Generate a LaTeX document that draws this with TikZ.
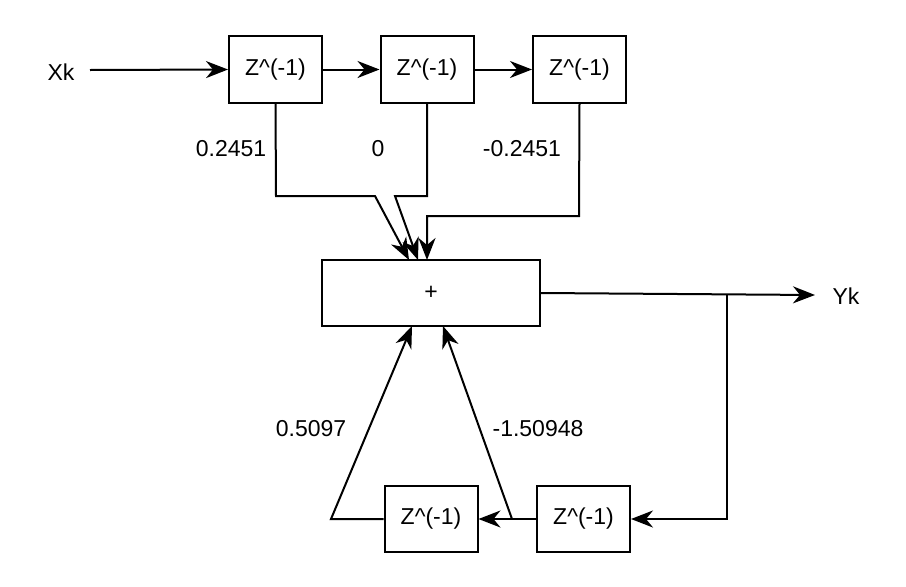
\documentclass[tikz,border=0pt]{standalone}
\usepackage{fontspec}
\setmainfont{Liberation Sans}
\usetikzlibrary{arrows.meta}
\begin{document}
\begin{tikzpicture}[x=1pt,y=-1pt,
  every node/.style={font=\fontsize{23}{27}\selectfont, inner sep=0pt},
  blk/.style={draw, line width=2pt, minimum width=93pt, minimum height=67pt},
  wire/.style={line width=2pt},
  arr/.style={wire, -{Stealth[length=22pt,width=17pt,inset=7pt]}},
  lbl/.style={}]
\useasboundingbox (0,0) rectangle (906,587);
\fill[white] (0,0) rectangle (906,587);
% nodes
\node[lbl] (xk) at (61,72) {Xk};
\node[blk] (b1) at (275.5,69.5) {Z\^{}(-1)};
\node[blk] (b2) at (427,69.5) {Z\^{}(-1)};
\node[blk] (b3) at (579.5,69.5) {Z\^{}(-1)};
\node[draw, line width=2pt, minimum width=218pt, minimum height=66pt] (sum) at (431,293) {+};
\node[lbl] (yk) at (846,296) {Yk};
\node[blk, minimum height=66pt] (f1) at (583.5,519) {Z\^{}(-1)};
\node[blk, minimum height=66pt] (f2) at (431,519) {Z\^{}(-1)};
% labels
\node[lbl] (l1) at (231,149) {0.2451};
\node[lbl] (l2) at (378,149) {0};
\node[lbl] (l3) at (522,149) {-0.2451};
\node[lbl] (l4) at (311,429) {0.5097};
\node[lbl] (l5) at (538,429) {-1.50948};
% coordinates
\coordinate (xs) at (90,70);
\coordinate (t1) at (409,260);
\coordinate (t2) at (418,260);
\coordinate (t3) at (427,260);
\coordinate (ye) at (815,295);
\coordinate (sp) at (727,295);
\coordinate (fb) at (727,519);
\coordinate (d1) at (512,519);
\coordinate (d2) at (331,519);
\coordinate (u1) at (443,326);
\coordinate (u2) at (412,326);
% connectors
\draw[arr] (xs) -- (b1.west);
\draw[arr] (b1.east) -- (b2.west);
\draw[arr] (b2.east) -- (b3.west);
\draw[arr] (b1.south) -- (276,196) -- (375,196) -- (t1);
\draw[arr] (b2.south) -- (427,196) -- (395,196) -- (t2);
\draw[arr] (b3.south) -- (579,216) -- (427,216) -- (t3);
\draw[arr] (sum.east) -- (ye);
\draw[arr] (sp) -- (fb) -- (f1.east);
\draw[arr] (f1.west) -- (f2.east);
\draw[arr] (d1) -- (u1);
\draw[arr] (f2.west) -- (d2) -- (u2);
\end{tikzpicture}
\end{document}
